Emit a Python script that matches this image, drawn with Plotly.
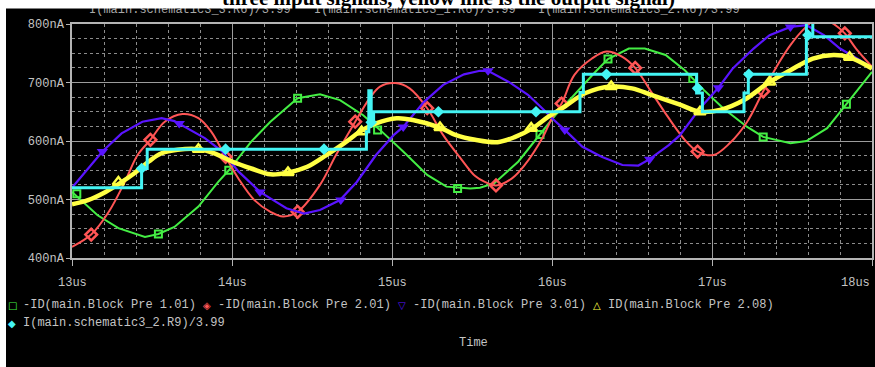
import plotly.graph_objects as go

# ── data (time in us, current in nA) ───────────────────────────────────────
green_t = [13.0, 13.16, 13.29, 13.456, 13.54, 13.64, 13.79, 13.914, 13.98, 14.12, 14.24,
           14.41, 14.55, 14.675, 14.82, 14.925, 15.07, 15.22, 15.34, 15.49, 15.55, 15.64,
           15.79, 15.925, 16.02, 16.14, 16.27, 16.35, 16.48, 16.58, 16.71, 16.83, 16.95,
           17.07, 17.22, 17.32, 17.49, 17.59, 17.72, 17.84, 18.0]
green_v = [513, 473, 451, 436, 441, 453, 488, 530, 550, 599, 633,
           673, 680, 670, 644, 619, 582, 542, 522, 519, 520, 528,
           565, 611, 644, 679, 718, 740, 758, 758, 747, 721, 687,
           656, 624, 607, 596, 600, 622, 663, 718]
green_mk_t = [13.03, 13.54, 13.98, 14.41, 14.91, 15.41, 15.925, 16.35, 16.88, 17.32, 17.84]
green_mk_v = [510, 441, 550, 673, 619, 519, 611, 740, 707, 607, 663]

red_t = [13.0, 13.12, 13.23, 13.33, 13.41, 13.49, 13.58, 13.69, 13.79, 13.87, 13.96, 14.04,
         14.14, 14.24, 14.32, 14.41, 14.55, 14.65, 14.77, 14.86, 14.925, 15.02, 15.11, 15.22,
         15.32, 15.43, 15.52, 15.58, 15.65, 15.75, 15.83, 15.94, 16.0, 16.06, 16.14, 16.25,
         16.34, 16.44, 16.52, 16.62, 16.73, 16.83, 16.91, 17.01, 17.11, 17.22, 17.32, 17.41,
         17.49, 17.58, 17.67, 17.76, 17.83, 17.9, 18.0]
red_v = [419, 440, 479, 530, 576, 602, 633, 646, 639, 616, 573, 536,
         499, 479, 471, 479, 525, 576, 633, 673, 693, 699, 690, 656,
         610, 570, 540, 530, 524, 536, 559, 605, 639, 664, 713, 741,
         753, 744, 725, 684, 639, 602, 582, 576, 596, 633, 685, 730,
         764, 793, 812, 800, 784, 758, 727]
red_mk_t = [13.12, 13.49, 13.96, 14.41, 14.77, 15.22, 15.65, 16.06, 16.52, 16.91, 17.32, 17.83]
red_mk_v = [440, 602, 573, 479, 633, 656, 524, 664, 725, 582, 685, 784]

blue_t = [13.0, 13.1, 13.19, 13.31, 13.44, 13.56, 13.64, 13.83, 13.94, 14.04, 14.175, 14.24,
          14.34, 14.45, 14.55, 14.675, 14.78, 14.9, 15.01, 15.07, 15.2, 15.32, 15.45, 15.55,
          15.6, 15.73, 15.85, 15.95, 16.0, 16.08, 16.19, 16.31, 16.44, 16.54, 16.61, 16.73,
          16.8, 16.925, 17.04, 17.13, 17.26, 17.36, 17.49, 17.59, 17.7, 17.8, 17.925, 18.0]
blue_v = [520, 553, 582, 613, 633, 639, 634, 605, 582, 548, 513, 502,
          485, 476, 482, 499, 530, 576, 610, 624, 667, 696, 714, 720,
          720, 701, 679, 653, 639, 619, 590, 573, 559, 558, 569, 593,
          610, 656, 691, 724, 758, 781, 795, 798, 781, 758, 738, 724]
blue_mk_t = [13.19, 13.67, 14.175, 14.68, 15.07, 15.6, 16.08, 16.61, 17.04, 17.49]
blue_mk_v = [582, 630, 513, 499, 624, 720, 619, 569, 691, 795]

yellow_t = [13.0, 13.1, 13.21, 13.3, 13.39, 13.48, 13.56, 13.66, 13.79, 13.89, 14.0, 14.12,
            14.24, 14.35, 14.47, 14.59, 14.7, 14.8, 14.9, 15.03, 15.13, 15.3, 15.4, 15.52,
            15.66, 15.77, 15.88, 15.98, 16.08, 16.21, 16.37, 16.5, 16.62, 16.8, 16.925, 17.05,
            17.2, 17.36, 17.49, 17.63, 17.76, 17.86, 18.0]
yellow_v = [492, 499, 513, 528, 545, 565, 579, 585, 586, 579, 565, 553,
            543, 546, 556, 576, 596, 616, 630, 639, 636, 623, 610, 602,
            598, 607, 622, 642, 659, 682, 693, 690, 679, 662, 650, 653,
            670, 701, 721, 741, 747, 743, 724]
yellow_mk_t = [13.29, 13.79, 14.35, 14.81, 15.3, 15.87, 16.37, 16.925, 17.36, 17.86]
yellow_mk_v = [530, 586, 546, 616, 623, 622, 693, 650, 701, 743]

cyan_t = [13.0, 13.435, 13.47, 14.84, 14.855, 14.87, 14.885, 16.175, 16.196, 16.904, 16.94,
          17.2, 17.227, 17.59, 17.63, 18.0]
cyan_v = [520, 553, 586, 616, 686, 632, 650, 683, 714, 682, 650, 682, 714, 805, 778, 778]
cyan_mk_t = [13.435, 13.96, 14.575, 14.87, 15.29, 15.9, 16.34, 16.91, 17.23, 17.6]
cyan_mk_v = [553, 586, 586, 632, 650, 650, 714, 690, 714, 781]

x_ticks = [13, 14, 15, 16, 17, 18]
x_labels = ["13us", "14us", "15us", "16us", "17us", "18us"]
y_ticks = [400, 500, 600, 700, 800]
y_labels = ["400nA", "500nA", "600nA", "700nA", "800nA"]

legend_names = ["-ID(main.Block Pre 1.01)", "-ID(main.Block Pre 2.01)",
                "-ID(main.Block Pre 3.01)", "ID(main.Block Pre 2.08)",
                "I(main.schematic3_2.R9)/3.99"]
top_names = ["I(main.schematic3_3.R6)/3.99", "I(main.schematic3_1.R6)/3.99",
             "I(main.schematic3_2.R6)/3.99"]
title_text = "three input signals, yellow line is the output signal)"

# ── styling ─────────────────────────────────────────────────────────────────
W, H = 875, 367
L, R, T, B = 72, 3, 24, 109
PW, PH = W - L - R, H - T - B
MONO = "Liberation Mono"
GRAY = "#c4c4c4"
GREEN = "#44ee44"
RED = "#ff5555"
BLUE = "#5a14ff"
YELLOW = "#ffff44"
CYAN = "#44f4f4"


def px2x(px):
    return (px - L) / PW


def py2y(py):
    return 1 - (py - T) / PH


fig = go.Figure()

series = [
    (green_t, green_v, green_mk_t, green_mk_v, GREEN, 2, "linear",
     dict(symbol="square-open", size=7, color=GREEN, line=dict(width=2, color=GREEN))),
    (red_t, red_v, red_mk_t, red_mk_v, RED, 2, "spline",
     dict(symbol="diamond-open", size=9, color=RED, line=dict(width=2.5, color=RED))),
    (blue_t, blue_v, blue_mk_t, blue_mk_v, BLUE, 2.2, "linear",
     dict(symbol="triangle-down", size=10, color=BLUE, line=dict(width=0))),
    (yellow_t, yellow_v, yellow_mk_t, yellow_mk_v, YELLOW, 4.5, "spline",
     dict(symbol="triangle-up-open", size=10, color=YELLOW, line=dict(width=2.5, color=YELLOW))),
    (cyan_t, cyan_v, cyan_mk_t, cyan_mk_v, CYAN, 3, "hv",
     dict(symbol="diamond", size=9, color=CYAN, line=dict(width=0))),
]
for t, v, mt, mv, col, w, shape, mk in series:
    fig.add_trace(go.Scatter(x=t, y=v, mode="lines", line=dict(color=col, width=w, shape=shape)))
    fig.add_trace(go.Scatter(x=mt, y=mv, mode="markers", marker=mk, cliponaxis=True))

fig.update_layout(
    width=W, height=H,
    margin=dict(l=L, r=R, t=T, b=B, pad=0),
    paper_bgcolor="white", plot_bgcolor="black",
    showlegend=False,
    font=dict(family=MONO, size=12, color=GRAY),
)
fig.update_xaxes(
    range=[13, 18], tickmode="array", tickvals=x_ticks, showticklabels=False,
    automargin=False,
    showgrid=True, gridcolor="#9c9c9c", gridwidth=1, zeroline=False,
    showline=True, linecolor="#b4b4b4", linewidth=1.5, mirror=True,
    ticks="outside", ticklen=6, tickcolor="#b4b4b4",
    minor=dict(dtick=0.2, tick0=13, showgrid=True, gridcolor="#8c8c8c", griddash="dot", ticks=""),
)
fig.update_yaxes(
    range=[400, 800], tickmode="array", tickvals=y_ticks, ticktext=y_labels,
    automargin=False,
    tickfont=dict(family=MONO, size=12, color=GRAY),
    showgrid=True, gridcolor="#9c9c9c", gridwidth=1, zeroline=False,
    showline=True, linecolor="#b4b4b4", linewidth=1.5, mirror=True,
    ticks="outside", ticklen=4, tickcolor="#b4b4b4",
    minor=dict(dtick=25, tick0=400, showgrid=True, gridcolor="#8c8c8c", griddash="dot", ticks=""),
)

# black screenshot area, white margin on left and top
fig.add_shape(type="rect", xref="paper", yref="paper", layer="below",
              x0=px2x(6), x1=px2x(W + 5), y0=py2y(H + 5), y1=py2y(7),
              fillcolor="black", line=dict(width=0))

ann = []
# x tick labels
for xv, lab in zip(x_ticks, x_labels):
    ann.append(dict(x=xv, xref="x", y=py2y(283), yref="paper", text=lab, showarrow=False,
                    xanchor="right" if xv == 18 else "center", yanchor="middle",
                    font=dict(family=MONO, size=12, color=GRAY)))

# clipped legend line at top of screenshot
for px, name in zip([87, 312, 536], top_names):
    ann.append(dict(x=px2x(px), xref="paper", y=py2y(10), yref="paper", text=name,
                    showarrow=False, xanchor="left", yanchor="middle",
                    font=dict(family=MONO, size=12, color="#a8a8a8")))

# white strip covering the top of the screenshot
ann.append(dict(x=px2x(0), xref="paper", y=py2y(0), yref="paper", text=" ",
                showarrow=False, xanchor="left", yanchor="top", width=W + 20, height=7,
                bgcolor="white", borderpad=0, font=dict(size=1)))
# clipped title
ann.append(dict(x=px2x(448), xref="paper", y=py2y(12), yref="paper", text="<b>" + title_text + "</b>",
                showarrow=False, xanchor="center", yanchor="bottom",
                font=dict(family="Liberation Serif", size=21, color="black")))

# legend
leg_sym = ["□", "◈", "▽", "△", "◆"]
leg_col = [GREEN, RED, BLUE, YELLOW, CYAN]
leg_pos = [(12, 305), (207, 305), (402, 305), (597, 305), (12, 323)]
for s, c, (px, py), name in zip(leg_sym, leg_col, leg_pos, legend_names):
    ann.append(dict(x=px2x(px), xref="paper", y=py2y(py), yref="paper", text=s,
                    showarrow=False, xanchor="center", yanchor="middle",
                    font=dict(family="DejaVu Sans", size=10, color=c)))
    ann.append(dict(x=px2x(px + 9), xref="paper", y=py2y(py), yref="paper", text=name,
                    showarrow=False, xanchor="left", yanchor="middle",
                    font=dict(family=MONO, size=12, color=GRAY)))

ann.append(dict(x=px2x(473), xref="paper", y=py2y(343), yref="paper", text="Time",
                showarrow=False, xanchor="center", yanchor="middle",
                font=dict(family=MONO, size=12, color=GRAY)))

fig.update_layout(annotations=ann)

# the page body has a default 8px margin; drop it so the figure sits at the window origin
fig.write_html("out.html", config={"displayModeBar": False},
               post_script="document.body.style.margin = '0';")
